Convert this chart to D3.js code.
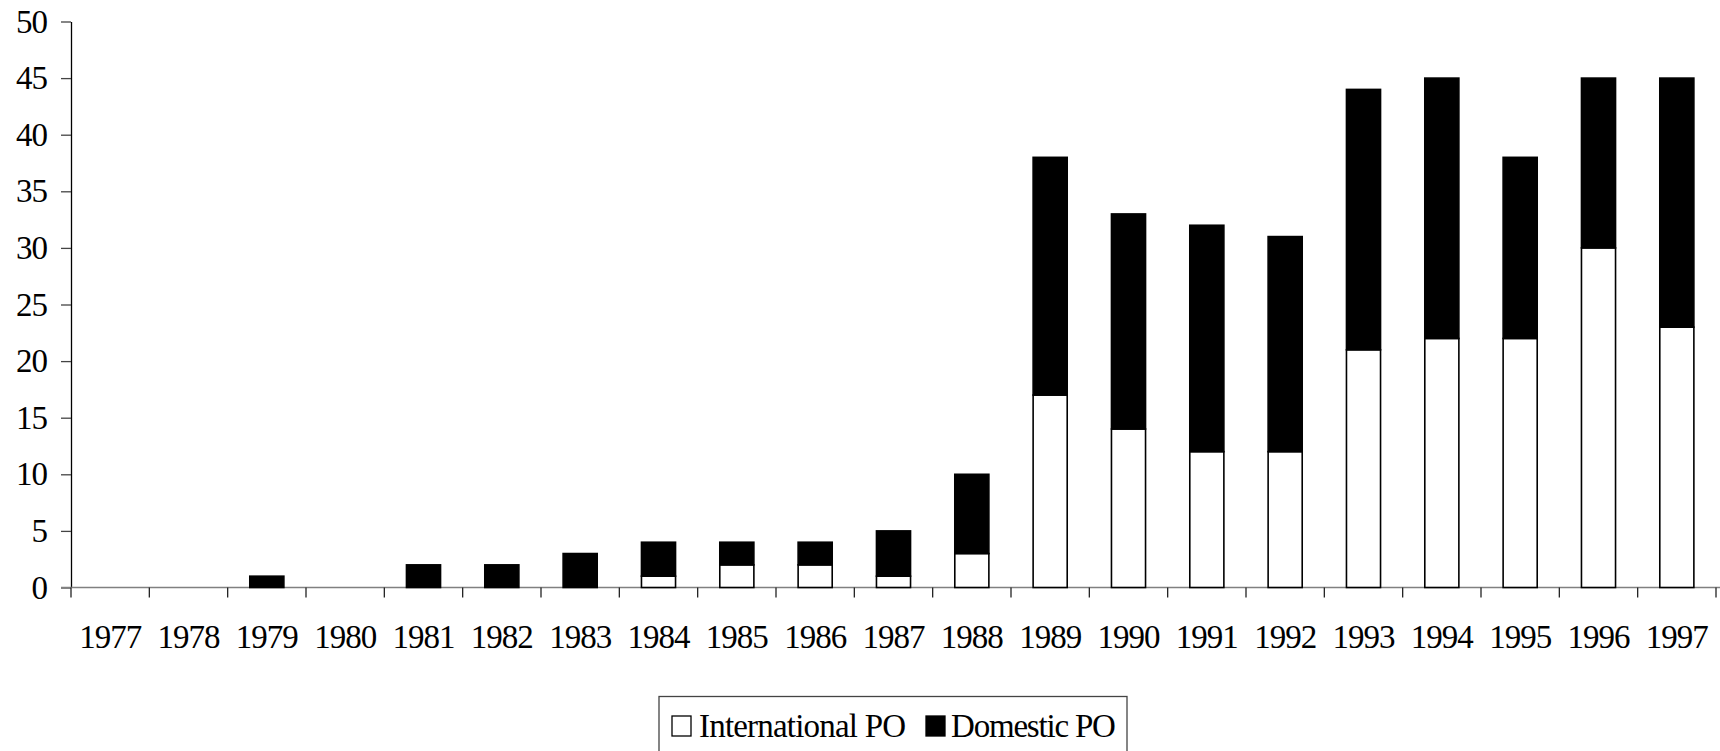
<!DOCTYPE html>
<html>
<head>
<meta charset="utf-8">
<script src="https://cdnjs.cloudflare.com/ajax/libs/d3/7.8.5/d3.min.js"></script>
<style>
  html, body { margin: 0; padding: 0; background: #fff; }
  svg text { font-family: "Liberation Serif", "Times New Roman", serif; fill: #000; }
</style>
</head>
<body>
<svg id="chart" width="1720" height="751"></svg>
<script>
// chart data
var years = ["1977","1978","1979","1980","1981","1982","1983","1984","1985","1986","1987",
             "1988","1989","1990","1991","1992","1993","1994","1995","1996","1997"];
var international = [0,0,0,0,0,0,0,1,2,2,1,3,17,14,12,12,21,22,22,30,23];
var domestic      = [0,0,1,0,2,2,3,3,2,2,4,7,21,19,20,19,23,23,16,15,22];
var yTicks = [0,5,10,15,20,25,30,35,40,45,50];
var seriesNames = ["International PO", "Domestic PO"];

var svg = d3.select("#chart");
var plotLeft = 71, plotRight = 1716, plotTop = 21.5, plotBottom = 587.5;

var x = d3.scaleBand()
    .domain(years)
    .range([plotLeft, plotRight])
    .paddingInner(0.565)
    .paddingOuter(0.2825);

var y = d3.scaleLinear()
    .domain([0, 50])
    .range([plotBottom, plotTop]);

// y axis
var yAxis = svg.append("g")
    .attr("transform", "translate(" + plotLeft + ",0)")
    .call(d3.axisLeft(y).tickValues(yTicks).tickSize(10).tickSizeOuter(0).tickPadding(14));
yAxis.select(".domain").attr("stroke", "#000").attr("stroke-width", 1.3);
yAxis.selectAll(".tick line").attr("stroke", "#444").attr("stroke-width", 1.3);
yAxis.selectAll(".tick text")
    .style("font-size", "33px")
    .style("letter-spacing", "-1px")
    .style("font-family", "'Liberation Serif', serif")
    .attr("fill", "#000");

// x axis line and category separators
var bounds = d3.range(years.length + 1).map(function(i) {
    return plotLeft + i * x.step();
});
svg.append("line")
    .attr("x1", plotLeft - 10).attr("x2", plotRight + 4)
    .attr("y1", plotBottom).attr("y2", plotBottom)
    .attr("stroke", "#808080").attr("stroke-width", 1.5);
svg.selectAll(".xsep").data(bounds).enter().append("line")
    .attr("class", "xsep")
    .attr("x1", function(d) { return d; }).attr("x2", function(d) { return d; })
    .attr("y1", plotBottom).attr("y2", plotBottom + 10)
    .attr("stroke", "#222").attr("stroke-width", 1.3);

var xAxis = svg.append("g")
    .attr("transform", "translate(0," + plotBottom + ")")
    .call(d3.axisBottom(x).tickSize(0).tickPadding(37));
xAxis.select(".domain").remove();
xAxis.selectAll(".tick text")
    .style("font-size", "33px")
    .style("letter-spacing", "-1px")
    .style("font-family", "'Liberation Serif', serif")
    .attr("fill", "#000");

// stacked bars
var rows = years.map(function(yr, i) {
    return { year: yr, international: international[i], domestic: domestic[i] };
});
var stack = d3.stack().keys(["international", "domestic"])(rows);
var fills = { international: "#fff", domestic: "#000" };

stack.forEach(function(layer) {
    svg.append("g").selectAll("rect")
        .data(layer.filter(function(d) { return d[1] - d[0] > 0; }))
        .enter().append("rect")
        .attr("x", function(d) { return x(d.data.year); })
        .attr("width", x.bandwidth())
        .attr("y", function(d) { return y(d[1]); })
        .attr("height", function(d) { return y(d[0]) - y(d[1]); })
        .attr("fill", fills[layer.key])
        .attr("stroke", "#000")
        .attr("stroke-width", 1.6);
});

// legend
var legend = svg.append("g");
legend.append("rect")
    .attr("x", 659).attr("y", 696.5)
    .attr("width", 468).attr("height", 80)
    .attr("fill", "none").attr("stroke", "#444").attr("stroke-width", 1.3);

var legendItems = [
    { name: seriesNames[0], fill: "#fff", sx: 672, tx: 699, ls: "-0.8px" },
    { name: seriesNames[1], fill: "#000", sx: 926, tx: 951, ls: "-1.2px" }
];
legendItems.forEach(function(it) {
    legend.append("rect")
        .attr("x", it.sx).attr("y", 716)
        .attr("width", 19).attr("height", 20)
        .attr("fill", it.fill).attr("stroke", "#000").attr("stroke-width", 1.3);
    legend.append("text")
        .attr("x", it.tx).attr("y", 737)
        .style("font-size", "33px")
        .style("letter-spacing", it.ls)
        .text(it.name);
});
</script>
</body>
</html>
